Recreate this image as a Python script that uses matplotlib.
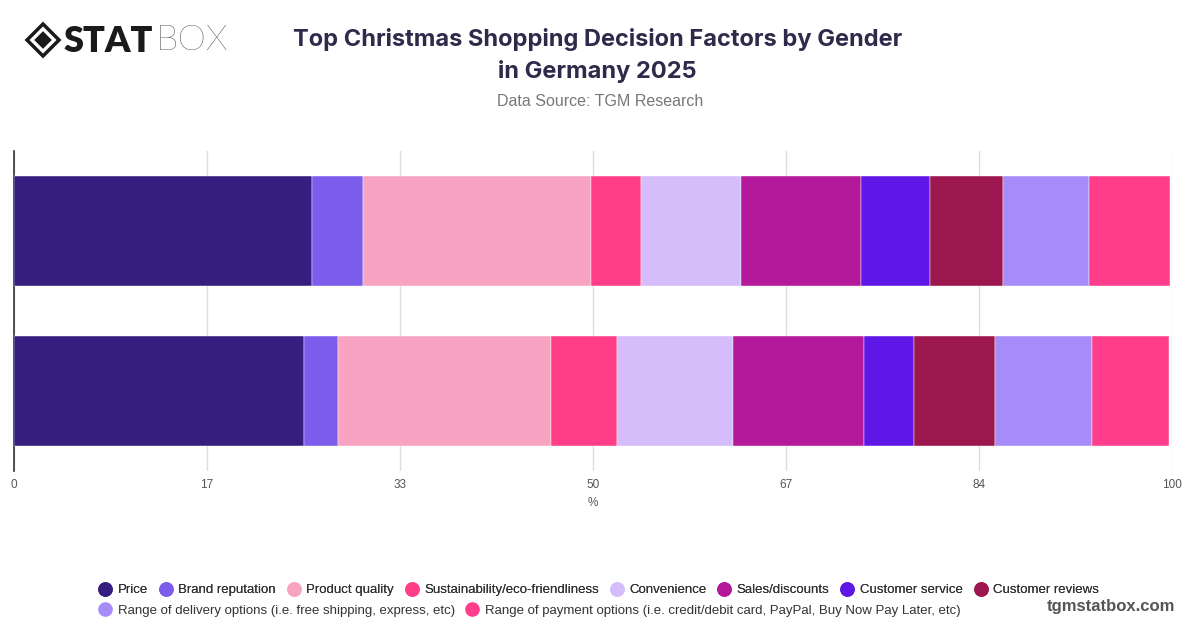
import numpy as np
import matplotlib
matplotlib.use("Agg")
import matplotlib.pyplot as plt
from matplotlib.lines import Line2D
from matplotlib.patches import Polygon

# data (share of respondents, %)
genders = ["Male", "Female"]
factors = [
    "Price",
    "Brand reputation",
    "Product quality",
    "Sustainability/eco-friendliness",
    "Convenience",
    "Sales/discounts",
    "Customer service",
    "Customer reviews",
    "Range of delivery options (i.e. free shipping, express, etc)",
    "Range of payment options (i.e. credit/debit card, PayPal, Buy Now Pay Later, etc)",
]
male_values = [25.7, 4.4, 19.7, 4.3, 8.7, 10.3, 6.0, 6.3, 7.4, 7.0]
female_values = [25.0, 3.0, 18.4, 5.7, 10.0, 11.3, 4.3, 7.0, 8.4, 6.6]
colors = ["#361E7F", "#7B5CEB", "#F9A3C3", "#FF3E87", "#D5BCFA",
          "#B4189B", "#5E17E6", "#9C174F", "#A78BF8", "#FF3D8B"]
tick_values = [0, 100 / 6, 200 / 6, 50, 400 / 6, 500 / 6, 100]
tick_labels = ["0", "17", "33", "50", "67", "84", "100"]

plt.rcParams["font.family"] = ["Liberation Sans", "DejaVu Sans"]

fig = plt.figure(figsize=(12, 6.28), dpi=100)
ax = fig.add_axes([14 / 1200, 1 - 471 / 628, 1158.3 / 1200, 320 / 628])

values = np.array([male_values, female_values])
ypos = np.arange(len(genders))
left = np.zeros(len(genders))
for i, name in enumerate(factors):
    ax.barh(ypos, values[:, i], left=left, height=0.69, color=colors[i],
            label=name, edgecolor="white", linewidth=0.3, zorder=3)
    left += values[:, i]

ax.set_xlim(0, 100)
ax.set_ylim(1.5, -0.5)
ax.set_yticks(ypos)
ax.set_yticklabels([])
ax.tick_params(axis="y", length=0)
ax.set_xticks(tick_values)
ax.set_xticklabels(tick_labels)
ax.tick_params(axis="x", length=0, labelsize=8.5, labelcolor="#555555", pad=6)
ax.grid(axis="x", color="#DDDDDD", linewidth=1, zorder=0)
for s in ["top", "right", "bottom"]:
    ax.spines[s].set_visible(False)
ax.spines["left"].set_color("#333333")
ax.spines["left"].set_linewidth(1.2)
ax.set_xlabel("%", fontsize=8.5, color="#555555", labelpad=4)

# title and subtitle
fig.text(0.498, 0.911, "Top Christmas Shopping Decision Factors by Gender\nin Germany 2025",
         ha="center", va="center", fontsize=17, fontweight="bold", color="#2E2A4A",
         family=["Inter", "DejaVu Sans"], linespacing=1.5)
fig.text(0.5, 0.838, "Data Source: TGM Research", ha="center", va="center",
         fontsize=11.5, color="#777777")

# logo
ix, iy, r = 43 / 1200, 1 - 40 / 628, 16
dx, dy = r / 1200, r / 628
fig.patches.append(Polygon([[ix - dx, iy], [ix, iy + dy], [ix + dx, iy], [ix, iy - dy]],
                           closed=True, transform=fig.transFigure, fill=False,
                           edgecolor="#1A1A1A", linewidth=2.5))
fig.patches.append(Polygon([[ix - dx * 0.55, iy], [ix, iy + dy * 0.55],
                            [ix + dx * 0.55, iy], [ix, iy - dy * 0.55]],
                           closed=True, transform=fig.transFigure,
                           facecolor="#1A1A1A", edgecolor="none"))
fig.text(64 / 1200, 1 - 41 / 628, "STAT", ha="left", va="center", fontsize=26,
         fontweight="heavy", color="#1A1A1A", family=["Lato", "DejaVu Sans"])
fig.text(156 / 1200, 1 - 41 / 628, "BOX", ha="left", va="center", fontsize=26,
         fontweight="light", color="#1A1A1A", family=["Lato", "DejaVu Sans"])

# legend, two rows
handles = [Line2D([0], [0], marker="o", linestyle="", markersize=9.5,
                  markerfacecolor=c, markeredgecolor=c) for c in colors]
leg_kw = dict(frameon=False, fontsize=9.5, handletextpad=0.35, columnspacing=0.75,
              handlelength=1.2, labelcolor="#333333")
leg1 = fig.legend(handles[:8], factors[:8], ncol=8, loc="center left",
                  bbox_to_anchor=(0.071, 0.060), **leg_kw)
fig.legend(handles[8:], factors[8:], ncol=2, loc="center left",
           bbox_to_anchor=(0.071, 0.028), **leg_kw)
fig.add_artist(leg1)

fig.text(0.979, 0.034, "tgmstatbox.com", ha="right", va="center", fontsize=12,
         fontweight="bold", color="#555555")

fig.savefig("out.png", dpi=100)
